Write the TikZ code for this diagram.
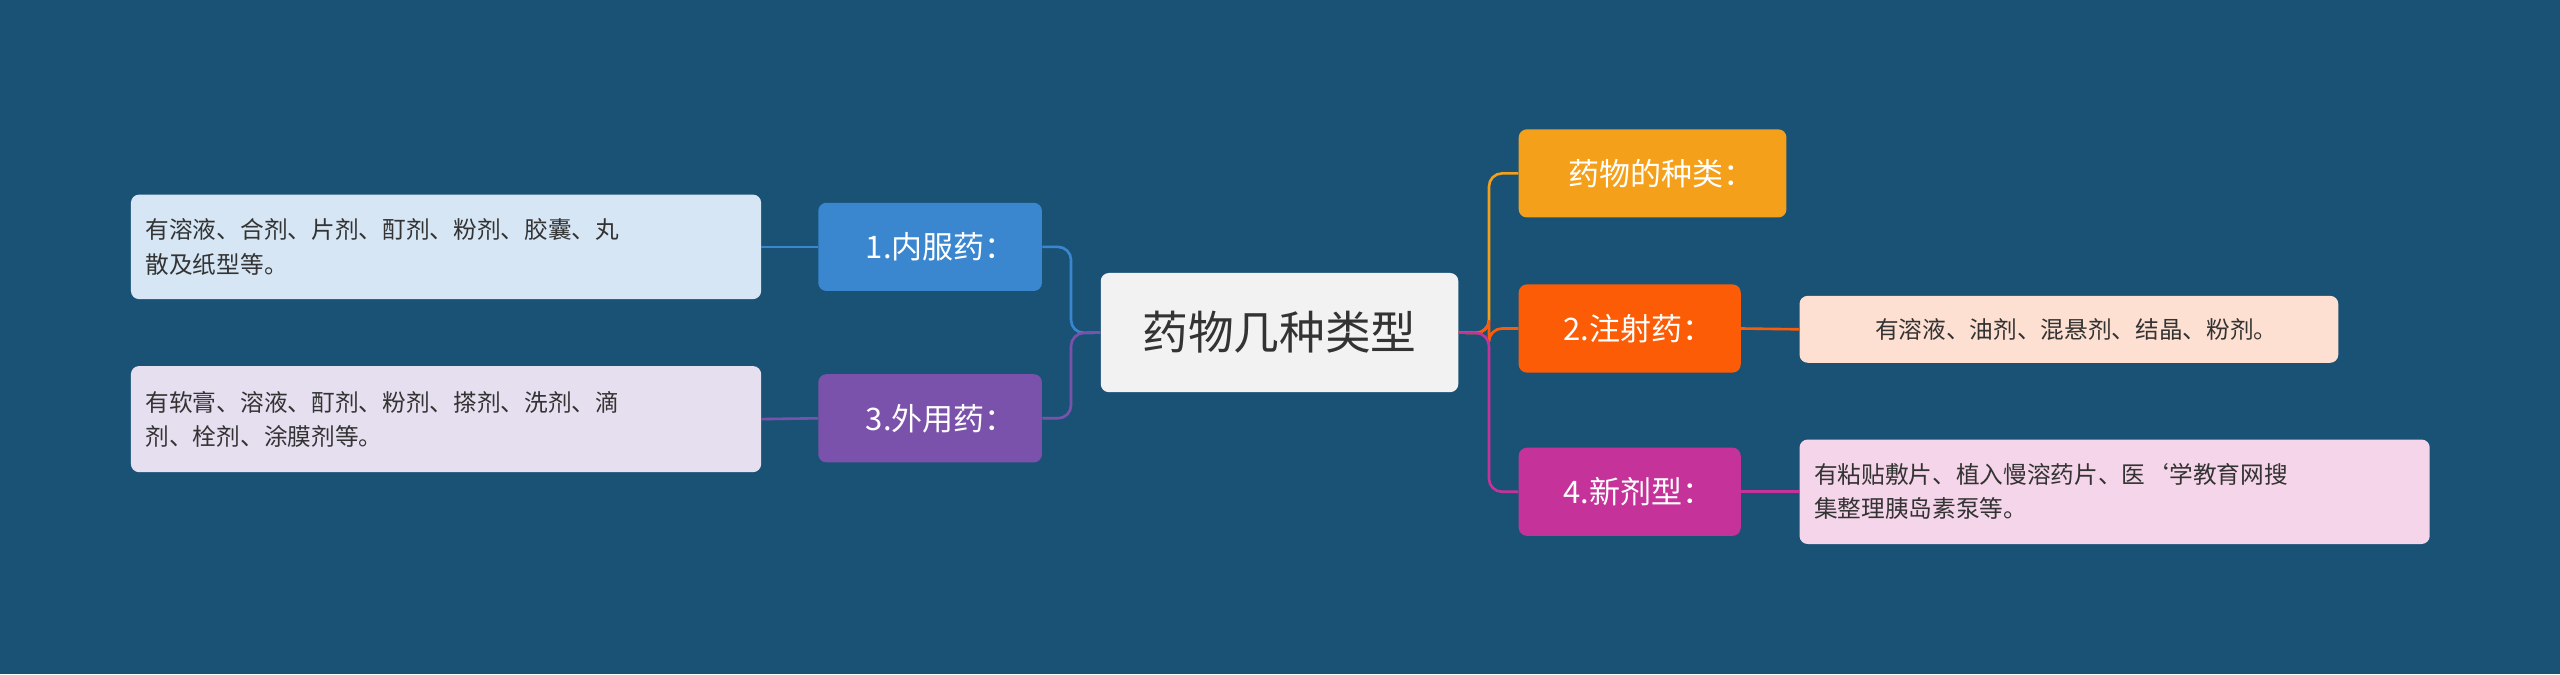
\documentclass[tikz,border=0pt]{standalone}
\usepackage{fontspec}
\setmainfont{Noto Sans CJK SC}
\definecolor{bg}{HTML}{1A5276}
\definecolor{cblue}{HTML}{3A87D0}
\definecolor{cpur}{HTML}{7B52AB}
\definecolor{corg}{HTML}{F5A01A}
\definecolor{cred}{HTML}{FB5C05}
\definecolor{cmag}{HTML}{C4329A}
\definecolor{lblue}{HTML}{D6E6F5}
\definecolor{lpur}{HTML}{E6DFF0}
\definecolor{lred}{HTML}{FDE0D2}
\definecolor{lmag}{HTML}{F5D5E9}
\definecolor{tx}{HTML}{333333}
\begin{document}
\begin{tikzpicture}[x=1pt,y=-1pt,
 box/.style={rounded corners=5pt,inner sep=0pt,anchor=north west},
 mid/.style={box,text=white,font=\fontsize{19}{23}\selectfont,align=left},
 leaf/.style={box,text=tx,font=\fontsize{14.5}{21}\selectfont,align=left},
 conn/.style={line width=1.6pt,rounded corners=8pt}]
\fill[bg] (0,0) rectangle (1568,413);
\useasboundingbox (0,0) rectangle (1568,413);
\node[box,fill=black!5,minimum width=219pt,minimum height=73pt,text=tx,font=\fontsize{28}{32}\selectfont] (c) at (674,167) {药物几种类型};
\node[mid,fill=cblue,minimum width=137pt,minimum height=54pt] (n1) at (501,124) {\hspace*{13pt}1.内服药：};
\node[mid,fill=cpur,minimum width=137pt,minimum height=54pt] (n3) at (501,229) {\hspace*{13pt}3.外用药：};
\node[mid,fill=corg,minimum width=164pt,minimum height=54pt] (n0) at (930,79) {\hspace*{11pt}药物的种类：};
\node[mid,fill=cred,minimum width=136pt,minimum height=54pt] (n2) at (930,174) {\hspace*{11pt}2.注射药：};
\node[mid,fill=cmag,minimum width=136pt,minimum height=54pt] (n4) at (930,274) {\hspace*{11pt}4.新剂型：};
\node[leaf,fill=lblue,minimum width=386pt,minimum height=64pt] (l1) at (80,119) {\parbox{368pt}{有溶液、合剂、片剂、酊剂、粉剂、胶囊、丸\\散及纸型等。}};
\node[leaf,fill=lpur,minimum width=386pt,minimum height=65pt] (l3) at (80,224) {\parbox{368pt}{有软膏、溶液、酊剂、粉剂、搽剂、洗剂、滴\\剂、栓剂、涂膜剂等。}};
\node[leaf,fill=lred,minimum width=330pt,minimum height=41pt] (l2) at (1102,181) {\hspace*{9pt}有溶液、油剂、混悬剂、结晶、粉剂。};
\node[leaf,fill=lmag,minimum width=386pt,minimum height=64pt] (l4) at (1102,269) {\parbox{368pt}{有粘贴敷片、植入慢溶药片、医`学教育网搜\\集整理胰岛素泵等。}};
\coordinate (jl) at (656,204);
\coordinate (jr) at (912,204);
\draw[conn,cblue] (c.west) -- (jl) |- (n1.east);
\draw[conn,cpur] (c.west) -- (jl) |- (n3.east);
\draw[conn,corg] (c.east) -- (jr) |- (n0.west);
\draw[conn,cred] (c.east) -- (jr) |- (n2.west);
\draw[conn,cmag] (c.east) -- (jr) |- (n4.west);
\draw[conn,cblue] (n1.west) -- (l1.east);
\draw[conn,cpur] (n3.west) -- (l3.east);
\draw[conn,cred] (n2.east) -- (l2.west);
\draw[conn,cmag] (n4.east) -- (l4.west);
\end{tikzpicture}
\end{document}
